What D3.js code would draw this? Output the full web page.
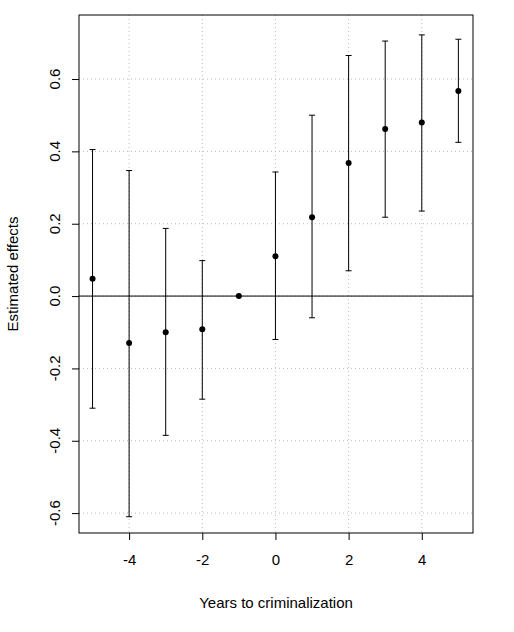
<!DOCTYPE html><html><head><meta charset="utf-8">
<script src="https://cdn.jsdelivr.net/npm/d3@7"></script>
<style>body{margin:0;background:#fff}text{font-family:"Liberation Sans",Arial,sans-serif}</style></head><body>
<svg id="c" width="514" height="632"></svg>
<script>
const years=[-5,-4,-3,-2,-1,0,1,2,3,4,5];
const estimates=[0.048,-0.13,-0.10,-0.092,0,0.11,0.218,0.368,0.462,0.48,0.567];
const upper=[0.405,0.347,0.187,0.098,0,0.343,0.5,0.665,0.705,0.722,0.71];
const lower=[-0.31,-0.61,-0.385,-0.285,0,-0.12,-0.06,0.07,0.218,0.235,0.425];
const xTicks=[-4,-2,0,2,4];
const yTicks=[-0.6,-0.4,-0.2,0,0.2,0.4,0.6];
const L=79,R=473,T=15,B=533;
const svg=d3.select("#c");
const x=d3.scaleLinear().domain([-5.37,5.40]).range([L,R]);
const y=d3.scaleLinear().domain([-0.655,0.777]).range([B,T]);
const g=svg.append("g");
xTicks.forEach(t=>g.append("line").attr("x1",x(t)).attr("x2",x(t)).attr("y1",T).attr("y2",B).attr("stroke","#bbb").attr("stroke-dasharray","1,3"));
yTicks.forEach(t=>g.append("line").attr("y1",y(t)).attr("y2",y(t)).attr("x1",L).attr("x2",R).attr("stroke","#bbb").attr("stroke-dasharray","1,3"));
g.append("line").attr("x1",L).attr("x2",R).attr("y1",y(0)).attr("y2",y(0)).attr("stroke","#000");
const xa=svg.append("g").attr("transform",`translate(0,${B})`).call(d3.axisBottom(x).tickValues(xTicks).tickSize(7).tickPadding(14).tickFormat(d=>d<0?"-"+Math.abs(d):d));
xa.select(".domain").remove();
xa.selectAll("text").attr("font-size",15).attr("fill","#000");
const ya=svg.append("g").attr("transform",`translate(${L},0)`).call(d3.axisLeft(y).tickValues(yTicks).tickSize(7).tickFormat(""));
ya.select(".domain").remove();
yTicks.forEach(t=>svg.append("text").attr("transform",`translate(60,${y(t)}) rotate(-90)`).attr("text-anchor","middle").attr("font-size",15).text(d3.format(".1f")(t).replace("−","-")));
svg.append("rect").attr("x",L).attr("y",T).attr("width",R-L).attr("height",B-T).attr("fill","none").attr("stroke","#000");
years.forEach((yr,i)=>{
 if(upper[i]!==lower[i]){
 g.append("line").attr("x1",x(yr)).attr("x2",x(yr)).attr("y1",y(lower[i])).attr("y2",y(upper[i])).attr("stroke","#000");
 [lower[i],upper[i]].forEach(v=>g.append("line").attr("x1",x(yr)-3).attr("x2",x(yr)+3).attr("y1",y(v)).attr("y2",y(v)).attr("stroke","#000"));}
 g.append("circle").attr("cx",x(yr)).attr("cy",y(estimates[i])).attr("r",3).attr("fill","#000");
});
svg.append("text").attr("x",(L+R)/2).attr("y",608).attr("text-anchor","middle").attr("font-size",15).text("Years to criminalization");
svg.append("text").attr("transform",`translate(18,${(T+B)/2}) rotate(-90)`).attr("text-anchor","middle").attr("font-size",15).text("Estimated effects");
</script></body></html>
